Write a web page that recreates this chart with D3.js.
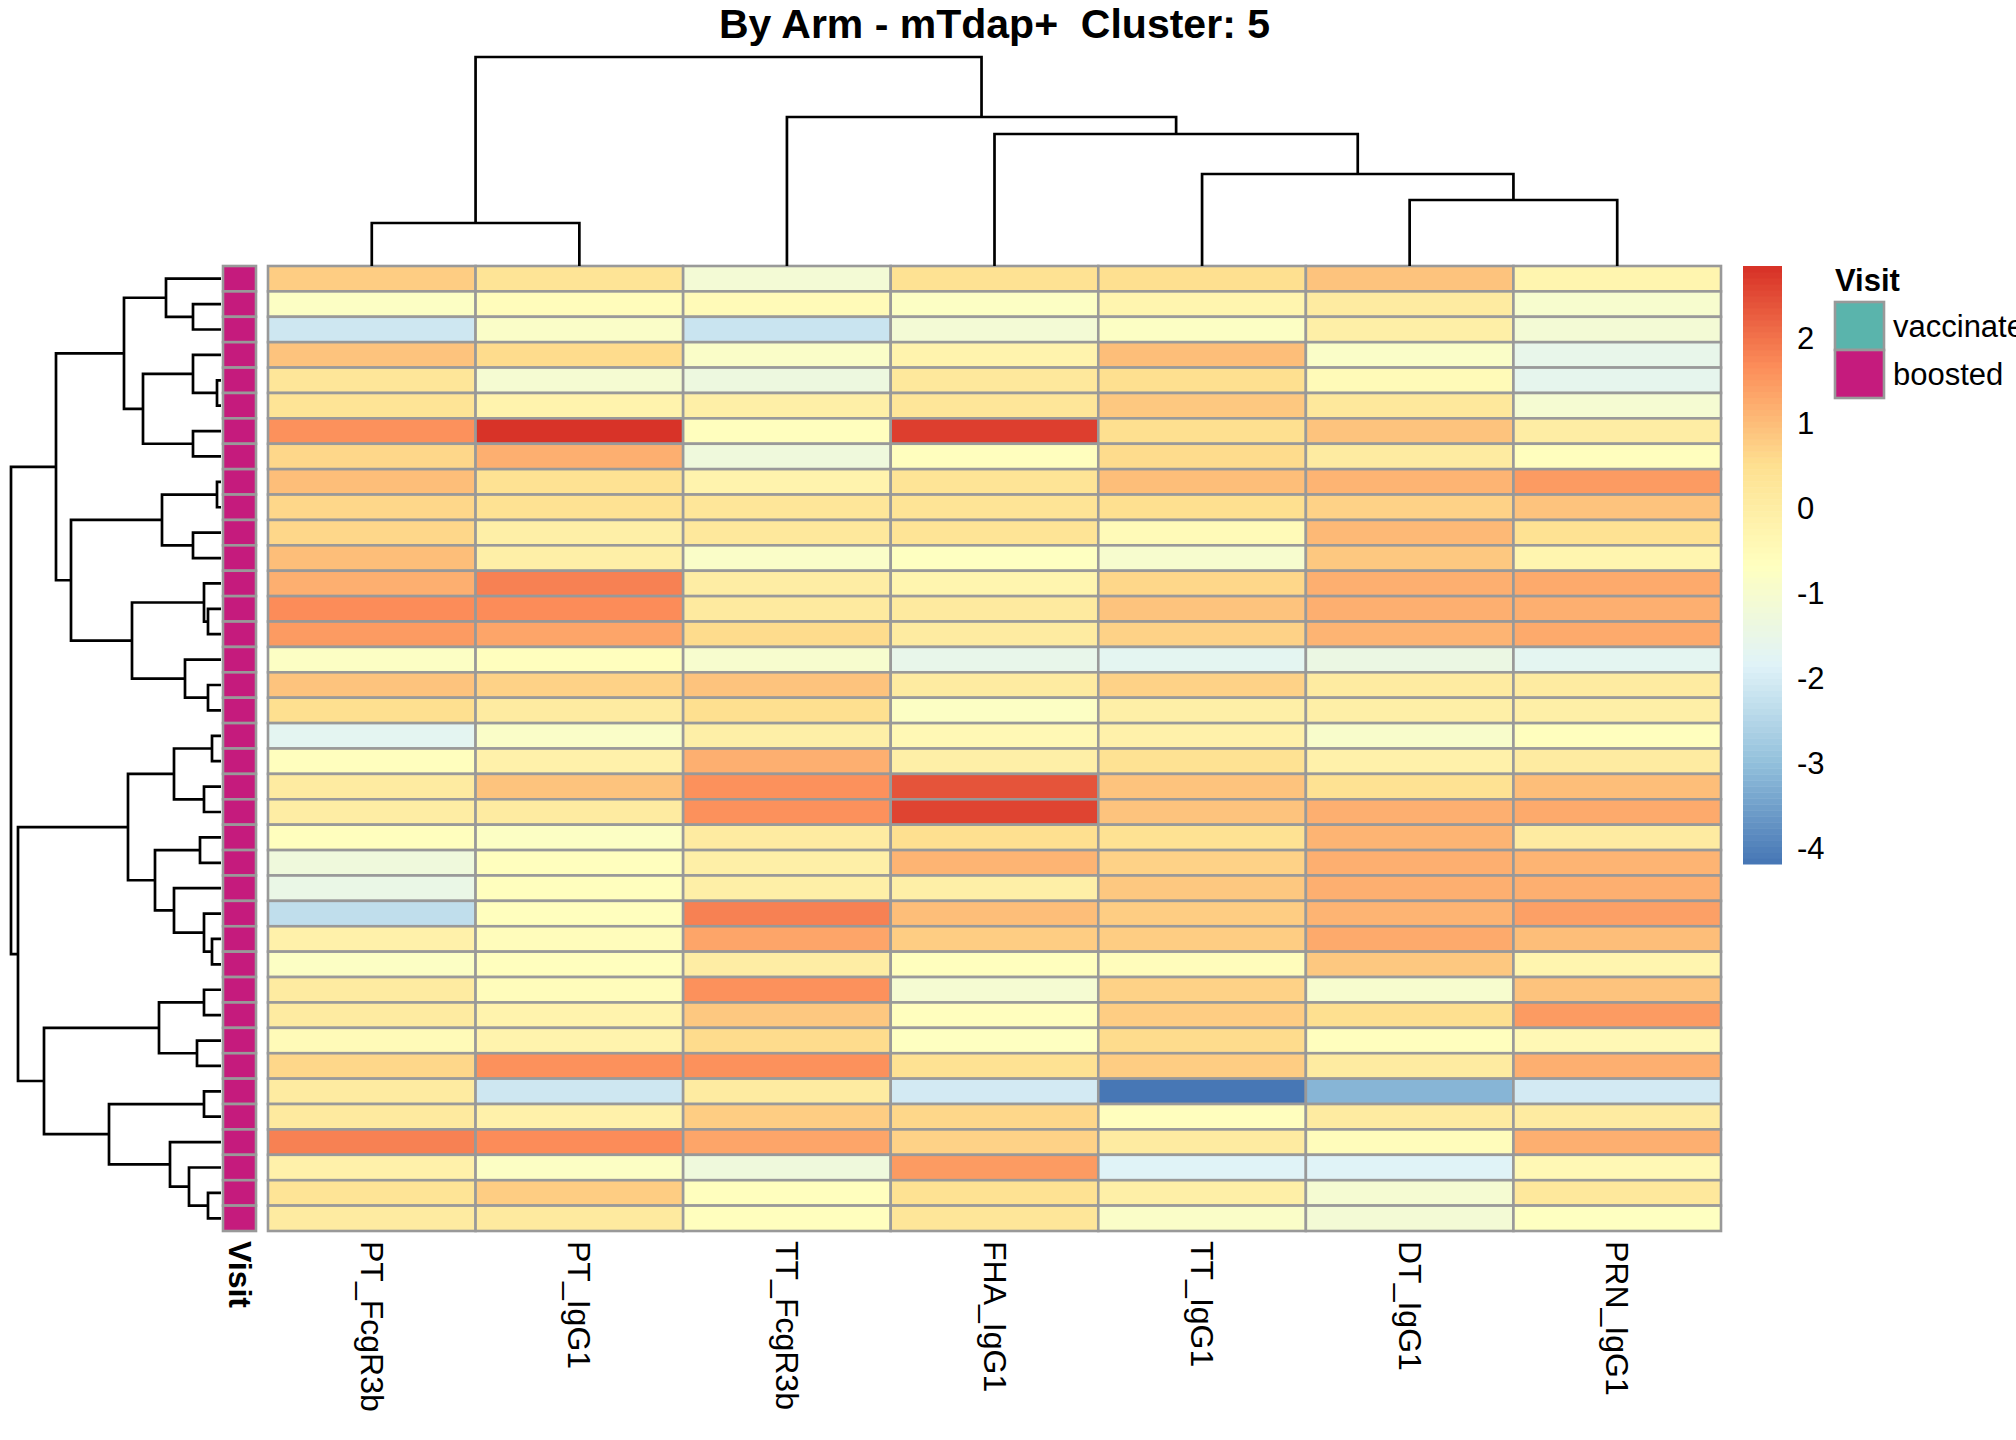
<!DOCTYPE html>
<html>
<head>
<meta charset="utf-8">
<script src="https://cdn.jsdelivr.net/npm/d3@7"></script>
<style>
  body { margin: 0; background: #fff; }
  svg { display: block; font-family: "Liberation Sans", Arial, sans-serif; }
</style>
</head>
<body>
<div id="chart"></div>
<script>
// column order as drawn (after clustering)
const colLabels = ["PT_FcgR3b", "PT_IgG1", "TT_FcgR3b", "FHA_IgG1", "TT_IgG1", "DT_IgG1", "PRN_IgG1"];

// scaled values, one row per sample, in dendrogram order
const values = [
  [ 0.75,  0.35, -1.10,  0.40,  0.50,  0.95, -0.30],
  [-0.80, -0.55, -0.50, -0.75, -0.30,  0.10, -1.00],
  [-2.10, -0.85, -2.20, -1.10, -0.80, -0.10, -1.10],
  [ 0.95,  0.60, -0.85, -0.20,  1.00, -0.85, -1.55],
  [ 0.25, -1.05, -1.30,  0.20,  0.50, -0.50, -1.60],
  [ 0.35, -0.20, -0.10,  0.30,  0.85,  0.20, -1.05],
  [ 1.60,  2.85, -0.60,  2.65,  0.50,  0.95,  0.00],
  [ 0.65,  1.20, -1.25, -0.60,  0.55,  0.05, -0.62],
  [ 1.00,  0.40, -0.20,  0.35,  1.00,  1.10,  1.50],
  [ 0.65,  0.40,  0.25,  0.35,  0.50,  0.70,  0.95],
  [ 0.65, -0.10,  0.20,  0.35, -0.50,  1.05,  0.40],
  [ 1.00, -0.10, -0.85, -0.70, -0.95,  0.85, -0.25],
  [ 1.20,  1.80,  0.00, -0.25,  0.65,  1.20,  1.30],
  [ 1.70,  1.70,  0.15,  0.15,  0.95,  1.20,  1.20],
  [ 1.45,  1.35,  0.55,  0.10,  0.70,  1.15,  1.30],
  [-0.80, -0.65, -0.95, -1.55, -1.65, -1.40, -1.70],
  [ 0.95,  0.70,  0.90,  0.05,  0.70,  0.05,  0.05],
  [ 0.50,  0.05,  0.50, -0.75, -0.10, -0.05, -0.05],
  [-1.70, -0.85, -0.05, -0.40, -0.15, -0.90, -0.62],
  [-0.62, -0.15,  1.20, -0.05,  0.40, -0.15,  0.05],
  [ 0.10,  0.95,  1.60,  2.40,  0.90,  0.40,  1.00],
  [ 0.00,  0.05,  1.60,  2.62,  0.90,  1.20,  1.30],
  [-0.60, -0.80,  0.10,  0.50,  0.40,  1.10,  0.05],
  [-1.25, -0.62, -0.10,  1.10,  0.70,  1.20,  1.10],
  [-1.50, -0.62, -0.05, -0.05,  0.85,  1.20,  1.20],
  [-2.30, -0.62,  1.80,  1.00,  0.80,  1.10,  1.40],
  [-0.15, -0.55,  1.35,  0.80,  0.80,  1.25,  1.00],
  [-0.75, -0.62,  0.00, -0.60, -0.55,  0.85, -0.30],
  [ 0.10, -0.55,  1.65, -1.05,  0.70, -1.00,  0.95],
  [ 0.10, -0.20,  0.85, -0.62,  0.80,  0.50,  1.50],
  [-0.50, -0.20,  0.55, -0.70,  0.55, -0.62, -0.45],
  [ 0.65,  1.60,  1.60,  0.40,  0.80,  0.05,  1.20],
  [ 0.10, -2.10,  0.05, -2.05, -4.18, -3.15, -2.05],
  [ 0.15, -0.15,  0.75,  0.65, -0.60,  0.05,  0.05],
  [ 1.85,  1.70,  1.35,  0.70,  0.05, -0.55,  1.20],
  [-0.15, -0.80, -1.25,  1.45, -1.80, -1.80, -0.45],
  [ 0.35,  0.80, -0.60,  0.40, -0.10, -1.05,  0.20],
  [ 0.10,  0.15, -0.62,  0.25, -0.85, -1.10, -0.70]
];

// row annotation
const rowVisit = [
  "boosted", "boosted", "boosted", "boosted", "boosted", "boosted", "boosted", "boosted",
  "boosted", "boosted", "boosted", "boosted", "boosted", "boosted", "boosted", "boosted",
  "boosted", "boosted", "boosted", "boosted", "boosted", "boosted", "boosted", "boosted",
  "boosted", "boosted", "boosted", "boosted", "boosted", "boosted", "boosted", "boosted",
  "boosted", "boosted", "boosted", "boosted", "boosted", "boosted"
];
const visitLevels = ["vaccinated", "boosted"];
const visitColors = ["#5AB4AC", "#C51B7D"];

// dendrograms: [left, right, mergeHeight], leaves are row / column indices
const colTree = [[0, 1, 43], [2, [3, [4, [5, 6, 66], 92], 132], 149], 209];
const rowTree = [
  [[[0, [1, 2, 28], 55], [[3, [4, 5, 4], 28], [6, 7, 28], 78], 97],
   [[[8, 9, 4], [10, 11, 28], 59],
    [[12, [13, 14, 13], 17], [15, [16, 17, 13], 36], 89], 150], 165],
  [[[[18, 19, 9], [20, 21, 17], 47],
    [[22, 23, 21], [24, [25, [26, 27, 9], 17], 47], 66], 93],
   [[[28, 29, 17], [30, 31, 24], 62],
    [[32, 33, 17], [34, [35, [36, 37, 13], 32], 51], 112], 177], 203],
  210];

const legendTicks = [-4, -3, -2, -1, 0, 1, 2];
const palette = ["#4575B4", "#91BFDB", "#E0F3F8", "#FFFFBF", "#FEE090", "#FC8D59", "#D73027"];

const width = 2016, height = 1440;
const svg = d3.select("#chart").append("svg")
  .attr("width", width)
  .attr("height", height);

const hmLeft = 268, hmRight = 1721, hmTop = 266, hmBottom = 1231;
const gridColor = "#999999";

const x = d3.scaleBand().domain(d3.range(colLabels.length)).range([hmLeft, hmRight]);
const y = d3.scaleBand().domain(d3.range(values.length)).range([hmTop, hmBottom]);

// 100-step colour ramp over the data range, like pheatmap
const allVals = values.flat();
const vmin = d3.min(allVals), vmax = d3.max(allVals);
const ramp = d3.scaleLinear()
  .domain(d3.range(palette.length).map(i => vmin + i * (vmax - vmin) / (palette.length - 1)))
  .range(palette)
  .interpolate(d3.interpolateRgb);
const nCol = 100;
const rampColors = d3.range(nCol).map(i => ramp(vmin + (i + 0.5) * (vmax - vmin) / nCol));
const color = d3.scaleQuantize().domain([vmin, vmax]).range(rampColors);

// title
svg.append("text")
  .attr("x", (hmLeft + hmRight) / 2)
  .attr("y", 38)
  .attr("text-anchor", "middle")
  .style("font-size", "41px")
  .style("font-weight", "bold")
  .style("white-space", "pre")
  .text("By Arm - mTdap+  Cluster: 5");

// heatmap cells
const cells = [];
values.forEach((row, i) => row.forEach((v, j) => cells.push({ i, j, v })));
svg.append("g").selectAll("rect")
  .data(cells)
  .enter()
  .append("rect")
  .attr("x", d => x(d.j))
  .attr("y", d => y(d.i))
  .attr("width", x.bandwidth())
  .attr("height", y.bandwidth())
  .attr("fill", d => color(d.v))
  .attr("stroke", gridColor)
  .attr("stroke-width", 2.6);

// annotation column
const annX = 223, annW = 33;
const visitColor = d3.scaleOrdinal().domain(visitLevels).range(visitColors);
svg.append("g").selectAll("rect")
  .data(rowVisit)
  .enter()
  .append("rect")
  .attr("x", annX)
  .attr("y", (d, i) => y(i))
  .attr("width", annW)
  .attr("height", y.bandwidth())
  .attr("fill", d => visitColor(d))
  .attr("stroke", gridColor)
  .attr("stroke-width", 2.6);

// dendrogram helper: walks the nested merges and draws one bracket per merge
function drawTree(g, node, leafPos, hOf, horizontal) {
  const line = d3.line()
    .x(p => horizontal ? hOf(p[1]) : p[0])
    .y(p => horizontal ? p[0] : hOf(p[1]));
  function walk(n) {
    if (!Array.isArray(n)) return { pos: leafPos(n), h: 0 };
    const a = walk(n[0]), b = walk(n[1]), h = n[2];
    g.append("path")
      .attr("d", line([[a.pos, a.h], [a.pos, h], [b.pos, h], [b.pos, b.h]]))
      .attr("fill", "none")
      .attr("stroke", "#000")
      .attr("stroke-width", 2.7);
    return { pos: (a.pos + b.pos) / 2, h };
  }
  walk(node);
}

// column dendrogram
const colH = d3.scaleLinear().domain([0, colTree[2]]).range([hmTop, 57]);
drawTree(svg.append("g"), colTree, j => x(j) + x.bandwidth() / 2, colH, false);

// row dendrogram
const rowH = d3.scaleLinear().domain([0, rowTree[2]]).range([221, 11]);
drawTree(svg.append("g"), rowTree, i => y(i) + y.bandwidth() / 2, rowH, true);

// column labels, rotated
const labelY = 1241;
svg.append("g").selectAll("text")
  .data(colLabels)
  .enter()
  .append("text")
  .attr("transform", (d, j) => `translate(${x(j) + x.bandwidth() / 2},${labelY}) rotate(90)`)
  .attr("dominant-baseline", "central")
  .style("font-size", "32px")
  .text(d => d);

svg.append("text")
  .attr("transform", `translate(${annX + annW / 2},${labelY}) rotate(90)`)
  .attr("dominant-baseline", "central")
  .style("font-size", "32px")
  .style("font-weight", "bold")
  .text("Visit");

// colour legend
const legX = 1743, legW = 39, legTop = hmTop, legBottom = 864;
const legY = d3.scaleLinear().domain([vmin, vmax]).range([legBottom, legTop]);
const step = (vmax - vmin) / nCol;
svg.append("g").selectAll("rect")
  .data(rampColors)
  .enter()
  .append("rect")
  .attr("x", legX)
  .attr("y", (d, i) => legY(vmin + (i + 1) * step))
  .attr("width", legW)
  .attr("height", (legBottom - legTop) / nCol + 0.5)
  .attr("fill", d => d);

svg.append("g").selectAll("text")
  .data(legendTicks)
  .enter()
  .append("text")
  .attr("x", 1797)
  .attr("y", d => legY(d))
  .attr("dominant-baseline", "central")
  .style("font-size", "31px")
  .text(d => d);

// annotation legend
const annLegX = 1835, boxW = 49, boxH = 48, boxTop = 302;
svg.append("text")
  .attr("x", annLegX)
  .attr("y", 291)
  .style("font-size", "31px")
  .style("font-weight", "bold")
  .text("Visit");

const annLeg = svg.append("g").selectAll("g")
  .data(visitLevels)
  .enter()
  .append("g");
annLeg.append("rect")
  .attr("x", annLegX)
  .attr("y", (d, i) => boxTop + i * boxH)
  .attr("width", boxW)
  .attr("height", boxH)
  .attr("fill", d => visitColor(d))
  .attr("stroke", gridColor)
  .attr("stroke-width", 2.6);
annLeg.append("text")
  .attr("x", annLegX + boxW + 9)
  .attr("y", (d, i) => boxTop + i * boxH + boxH / 2)
  .attr("dominant-baseline", "central")
  .style("font-size", "31px")
  .text(d => d);
</script>
</body>
</html>
